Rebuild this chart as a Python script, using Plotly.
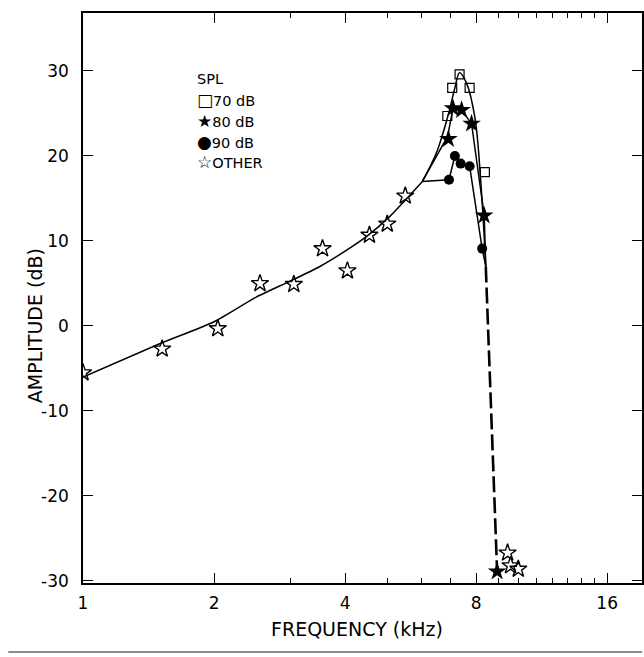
import plotly.graph_objects as go

# Measured points: frequency (kHz) and amplitude (dB) per stimulus level
spl70_freq = [6.87, 7.05, 7.33, 7.73, 8.38]
spl70_amp = [24.7, 28.0, 29.6, 28.0, 18.1]
spl80_freq = [6.91, 7.08, 7.41, 7.81, 8.35, 8.94]
spl80_amp = [22.0, 25.6, 25.4, 23.8, 13.0, -28.9]
spl90_freq = [6.93, 7.15, 7.37, 7.73, 8.26]
spl90_amp = [17.2, 20.0, 19.1, 18.8, 9.1]
other_freq = [1.0, 1.52, 2.04, 2.55, 3.05, 3.55, 4.05, 4.55, 5.0, 5.5, 9.45, 9.6, 10.0]
other_amp = [-5.5, -2.7, -0.3, 5.0, 4.9, 9.1, 6.5, 10.7, 12.0, 15.3, -26.7, -28.2, -28.6]

# Fitted response curves
fit_freq = [1.0, 1.5, 2.0, 2.5, 3.0, 3.5, 4.0, 4.5, 5.0, 5.5, 6.02]
fit_amp = [-6.0, -2.1, 0.5, 3.4, 5.3, 7.0, 8.8, 10.6, 12.6, 14.8, 17.0]
fit70_freq = [6.02, 6.5, 6.9, 7.15, 7.33, 7.6, 7.95, 8.2, 8.42]
fit70_amp = [17.0, 20.5, 24.8, 28.0, 29.8, 28.6, 24.5, 17.0, 7.0]
fit80_freq = [6.02, 6.88, 7.08, 7.41, 7.81, 8.35, 8.42]
fit80_amp = [17.0, 22.3, 25.6, 25.4, 23.8, 13.0, 7.0]
fit90_freq = [6.02, 6.93, 7.15, 7.37, 7.73, 8.26, 8.42]
fit90_amp = [17.0, 17.2, 20.0, 19.1, 18.8, 9.1, 7.0]
cutoff_freq = [8.42, 8.94]
cutoff_amp = [7.0, -28.9]

# Arrow labels: text, tip frequency, tip amplitude
arrow_labels = ["70", "80", "90"]
arrow_freq = [6.96, 6.75, 7.98]
arrow_amp = [26.9, 20.9, 11.7]

x_ticks = [1, 2, 4, 8, 16]
x_minor = [3, 5, 6, 7, 9, 10, 11, 12, 13, 14, 15]
y_ticks = [-30, -20, -10, 0, 10, 20, 30]

FONT = "DejaVu Sans"
ink = "black"
line_w = 1.5

fig = go.Figure()

fig.add_trace(go.Scatter(x=fit_freq, y=fit_amp, mode="lines",
                         line=dict(color=ink, width=line_w, shape="spline", smoothing=0.6)))
fig.add_trace(go.Scatter(x=fit70_freq, y=fit70_amp, mode="lines",
                         line=dict(color=ink, width=line_w, shape="spline")))
fig.add_trace(go.Scatter(x=fit80_freq, y=fit80_amp, mode="lines",
                         line=dict(color=ink, width=line_w)))
fig.add_trace(go.Scatter(x=fit90_freq, y=fit90_amp, mode="lines",
                         line=dict(color=ink, width=line_w)))
fig.add_trace(go.Scatter(x=cutoff_freq, y=cutoff_amp, mode="lines",
                         line=dict(color=ink, width=2.6, dash="16px,5px")))

fig.add_trace(go.Scatter(x=other_freq, y=other_amp, mode="markers",
                         marker=dict(symbol="star-open", size=13, color=ink,
                                     line=dict(width=1.4, color=ink))))
fig.add_trace(go.Scatter(x=spl70_freq, y=spl70_amp, mode="markers",
                         marker=dict(symbol="square-open", size=9, color=ink,
                                     line=dict(width=1.2, color=ink))))
fig.add_trace(go.Scatter(x=spl80_freq, y=spl80_amp, mode="markers",
                         marker=dict(symbol="star", size=14, color=ink)))
fig.add_trace(go.Scatter(x=spl90_freq, y=spl90_amp, mode="markers",
                         marker=dict(symbol="circle", size=10, color=ink)))

for txt, fx, fy in zip(arrow_labels, arrow_freq, arrow_amp):
    fig.add_annotation(x=fx, y=fy, xref="x", yref="y", text=txt, showarrow=True,
                       ax=-39, ay=0, arrowhead=2, arrowsize=1.1, arrowwidth=1.4,
                       arrowcolor=ink, font=dict(family=FONT, size=14, color=ink))

# Legend block
glyph = "<span style='font-size:17px'>{}</span>"
legend_rows = ["SPL", glyph.format("\u25a1") + "70 dB", glyph.format("\u2605") + "80 dB",
               glyph.format("\u25cf") + "90 dB", glyph.format("\u2606") + "OTHER"]
legend_y = [79, 100, 121, 141.5, 162]
for txt, py in zip(legend_rows, legend_y):
    fig.add_annotation(x=(195 - 83) / 561, y=(583 - py) / 570, xref="paper", yref="paper",
                       text=txt, showarrow=False, xanchor="left", yanchor="middle",
                       font=dict(family=FONT, size=14.5, color=ink))

fig.add_annotation(x=(22 - 83) / 561, y=(583 - 326) / 570, xref="paper", yref="paper",
                   text="AMPLITUDE (dB)", textangle=-90, showarrow=False,
                   font=dict(family=FONT, size=19, color=ink))
fig.add_annotation(x=(358 - 83) / 561, y=(583 - 642) / 570, xref="paper", yref="paper",
                   text="FREQUENCY (kHz)", showarrow=False,
                   font=dict(family=FONT, size=19, color=ink))

fig.add_shape(type="line", xref="paper", yref="paper",
              x0=(8 - 83) / 561, x1=1.0, y0=(583 - 652) / 570, y1=(583 - 652) / 570,
              line=dict(color="#8a8a8a", width=2))

fig.update_layout(
    width=644, height=657,
    margin=dict(l=83, r=0, t=13, b=74),
    paper_bgcolor="white", plot_bgcolor="white",
    showlegend=False,
    font=dict(family=FONT, size=17, color=ink),
)
fig.update_xaxes(type="log", range=[0, 1.2842], tickvals=x_ticks,
                 ticktext=[str(v) for v in x_ticks],
                 ticks="inside", ticklen=10, tickwidth=1.3, tickcolor=ink,
                 showline=True, linecolor=ink, linewidth=1.6, mirror="ticks",
                 showgrid=False, zeroline=False, ticklabelstandoff=4,
                 minor=dict(tickvals=x_minor, ticks="inside", ticklen=5,
                            tickwidth=1, tickcolor=ink, showgrid=False),
                 tickfont=dict(family=FONT, size=17, color=ink))
fig.update_yaxes(range=[-30.24, 36.82], tickvals=y_ticks,
                 ticktext=[str(v) for v in y_ticks],
                 ticks="inside", ticklen=10, tickwidth=1.3, tickcolor=ink,
                 showline=True, linecolor=ink, linewidth=1.6, mirror="ticks",
                 showgrid=False, zeroline=False, ticklabelstandoff=9,
                 tickfont=dict(family=FONT, size=17, color=ink))

fig.write_html("out.html")
